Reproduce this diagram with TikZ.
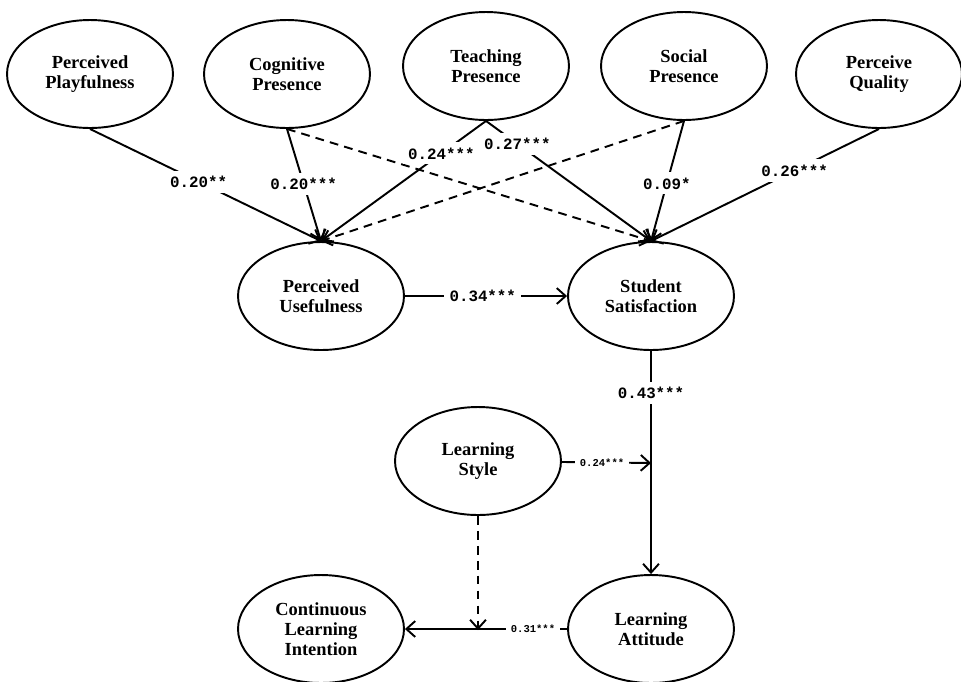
\documentclass[tikz,border=0pt]{standalone}
\usepackage{fontspec}
\setmainfont{Liberation Serif}
\setmonofont{Liberation Mono}
\usetikzlibrary{shapes.geometric,arrows.meta}

\begin{document}
\begin{tikzpicture}[x=0.02cm, y=-0.02cm,
    latent/.style={ellipse, draw, line width=1.1pt, minimum width=3.32cm,
      minimum height=2.16cm, inner sep=0pt, align=center,
      font=\bfseries\fontsize{10.5}{11.5}\selectfont},
    link/.style={line width=1.1pt, -{Straight Barb[length=5pt,width=9pt]}},
    dashline/.style={dash pattern=on 5pt off 3.5pt},
    coef/.style={fill=white, inner sep=3pt, font=\ttfamily\bfseries\fontsize{9}{9}\selectfont},
    smallcoef/.style={fill=white, inner sep=2.5pt, font=\ttfamily\bfseries\fontsize{6}{7}\selectfont}]
  \useasboundingbox (0,0) rectangle (961,681);
  % top row
  \node[latent] (play) at (90,74) {Perceived\\Playfulness};
  \node[latent] (cog) at (287,74) {Cognitive\\Presence};
  \node[latent] (teach) at (486,66) {Teaching\\Presence};
  \node[latent] (social) at (684,66) {Social\\Presence};
  \node[latent] (quality) at (879,74) {Perceive\\Quality};
  % middle and bottom
  \node[latent] (useful) at (321,296) {Perceived\\Usefulness};
  \node[latent] (satis) at (651,296) {Student\\Satisfaction};
  \node[latent] (style) at (478,461) {Learning\\Style};
  \node[latent] (intent) at (321,629) {Continuous\\Learning\\Intention};
  \node[latent] (attitude) at (651,629) {Learning\\Attitude};
  \coordinate (modone) at (651,463);
  \coordinate (modtwo) at (478,630);

  \draw[link, dashline] (cog.south) -- (satis.north);
  \draw[link, dashline] (social.south) -- (useful.north);
  \draw[link] (play.south) -- node[coef, pos=0.47] {0.20**} (useful.north);
  \draw[link] (cog.south) -- node[coef, pos=0.49] {0.20***} (useful.north);
  \draw[link] (teach.south) -- node[coef, pos=0.27] {0.24***} (useful.north);
  \draw[link] (teach.south) -- node[coef, pos=0.19] {0.27***} (satis.north);
  \draw[link] (social.south) -- node[coef, pos=0.52] {0.09*} (satis.north);
  \draw[link] (quality.south) -- node[coef, pos=0.37] {0.26***} (satis.north);
  \draw[link] (useful) -- node[coef, pos=0.48] {0.34***} (satis);
  \draw[link] (satis) -- node[coef, pos=0.19] {0.43***} (attitude);
  \draw[link] (style) -- node[smallcoef, pos=0.45] {0.24***} (modone);
  \draw[link] (attitude) -- node[smallcoef, pos=0.21] {0.31***} (intent);
  \draw[link, dashline] (style) -- (modtwo);
\end{tikzpicture}
\end{document}
